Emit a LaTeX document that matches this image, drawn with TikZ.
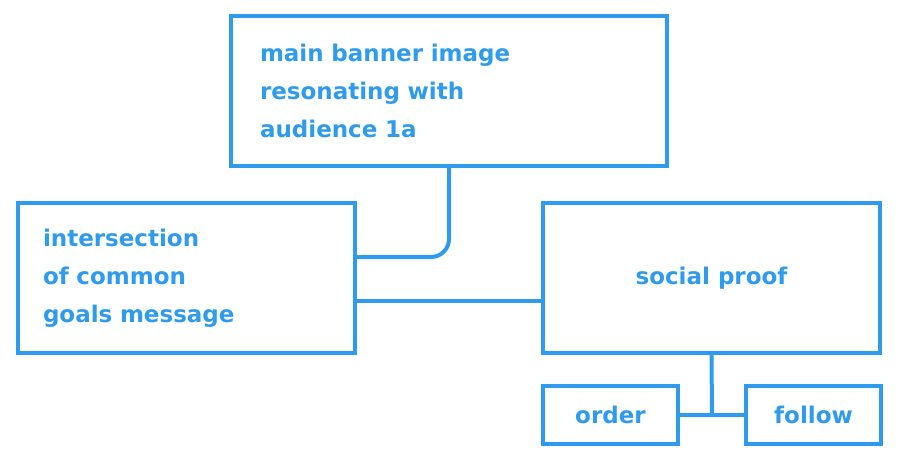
\documentclass[tikz,border=0pt]{standalone}
\usepackage{fontspec}
\setmainfont{DejaVu Sans}
\usetikzlibrary{calc}
\definecolor{skyblue}{HTML}{2E9BEF}
\begin{document}
\begin{tikzpicture}[x = 1pt, y = -1pt, % pixel grid, y down
                line width = 4pt, draw = skyblue
            ]

            \tikzset{box/.style = {draw = skyblue, rectangle, anchor = north west,
            inner sep = 0pt, text = skyblue, align = left,
            font = \fontsize{23}{38}\selectfont\bfseries}}

            \useasboundingbox (0,0) rectangle (900,456);

            \node[box, minimum width = 436pt, minimum height = 150pt,
                text width = 378pt] (banner) at (229,14) {main banner image\\
                resonating with\\ audience 1a};
            \node[box, minimum width = 337pt, minimum height = 150pt,
                text width = 287pt] (goals) at (16,201) {intersection\\ of common\\
                goals message};
            \node[box, minimum width = 337pt, minimum height = 150pt,
                align = center] (proof) at (541,201) {social proof};
            \node[box, minimum width = 135pt, minimum height = 58pt,
                align = center] (order) at (541,384) {order};
            \node[box, minimum width = 135pt, minimum height = 58pt,
                align = center] (follow) at (744,384) {follow};

            \draw[skyblue, rounded corners = 18pt] (banner.south) |-
            ($(goals.east)+(0,-21)$); \draw[skyblue] ($(goals.east)+(0,23)$) --
            ($(proof.west)+(0,23)$); \draw[skyblue] (order.east) -- (follow.west);
            \draw[skyblue] (proof.south) -- ($(order.east)!0.5!(follow.west)$);
\end{tikzpicture}
\end{document}
